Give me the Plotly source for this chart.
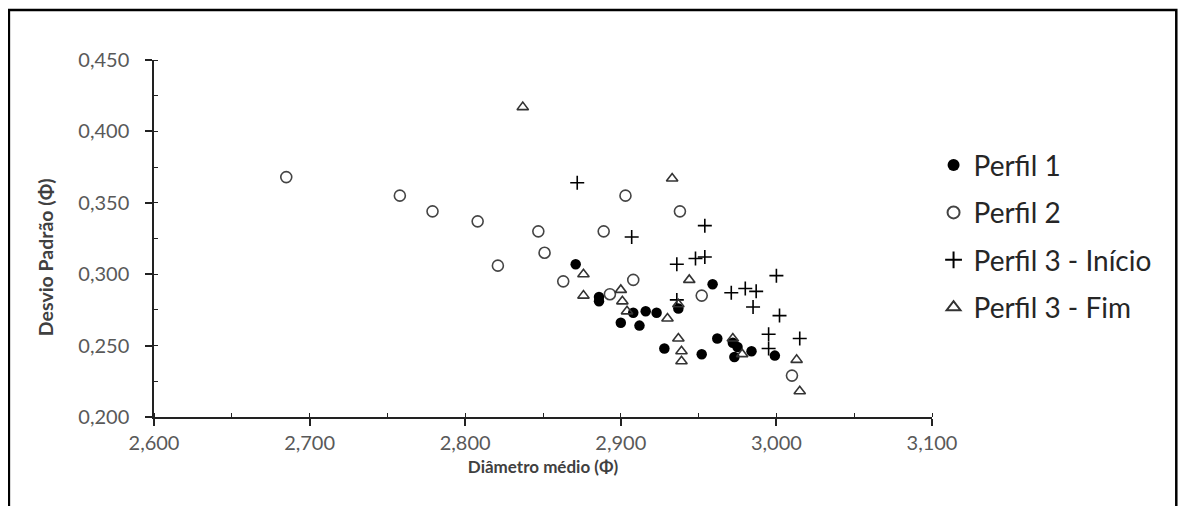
import plotly.graph_objects as go

# Perfil 1 (filled circles)
p1_x = [2.871, 2.886, 2.886, 2.900, 2.908, 2.912, 2.916, 2.923, 2.928, 2.937,
        2.959, 2.952, 2.962, 2.972, 2.975, 2.973, 2.984, 2.999]
p1_y = [0.307, 0.284, 0.281, 0.266, 0.273, 0.264, 0.274, 0.273, 0.248, 0.276,
        0.293, 0.244, 0.255, 0.252, 0.249, 0.242, 0.246, 0.243]

# Perfil 2 (open circles)
p2_x = [2.685, 2.758, 2.779, 2.808, 2.821, 2.847, 2.851, 2.863, 2.889, 2.903,
        2.908, 2.938, 2.893, 2.952, 3.010]
p2_y = [0.368, 0.355, 0.344, 0.337, 0.306, 0.330, 0.315, 0.295, 0.330, 0.355,
        0.296, 0.344, 0.286, 0.285, 0.229]

# Perfil 3 - Início (plus)
p3i_x = [2.872, 2.907, 2.936, 2.948, 2.954, 2.954, 3.000, 2.971, 2.980, 2.987,
         2.985, 3.002, 2.995, 3.015, 2.995, 2.936]
p3i_y = [0.364, 0.326, 0.307, 0.311, 0.312, 0.334, 0.299, 0.287, 0.290, 0.288,
         0.277, 0.271, 0.258, 0.255, 0.248, 0.282]

# Perfil 3 - Fim (open triangles)
p3f_x = [2.837, 2.933, 2.876, 2.876, 2.900, 2.901, 2.904, 2.930, 2.944, 2.937,
         2.939, 2.939, 2.972, 2.978, 3.013, 3.015, 2.937]
p3f_y = [0.417, 0.367, 0.300, 0.285, 0.289, 0.281, 0.274, 0.269, 0.296, 0.255,
         0.246, 0.239, 0.255, 0.244, 0.240, 0.218, 0.279]

x_ticks = [2.6, 2.7, 2.8, 2.9, 3.0, 3.1]
y_ticks = [0.20, 0.25, 0.30, 0.35, 0.40, 0.45]

x_title = "Diâmetro médio (Φ)"
y_title = "Desvio Padrão (Φ)"

FONT = "Lato, 'Noto Sans', sans-serif"

fig = go.Figure()
fig.add_trace(go.Scatter(
    x=p1_x, y=p1_y, mode="markers", name="Perfil 1", legendgroup="a",
    marker=dict(symbol="circle", size=10.5, color="black")))
fig.add_trace(go.Scatter(
    x=p2_x, y=p2_y, mode="markers", name="Perfil 2", legendgroup="b",
    marker=dict(symbol="circle-open", size=11, color="#444444",
                line=dict(width=1.6, color="#444444"))))
fig.add_trace(go.Scatter(
    x=p3i_x, y=p3i_y, mode="markers", name="Perfil 3 - Início", legendgroup="c",
    marker=dict(symbol="cross-thin", size=10, color="black",
                line=dict(width=1.6, color="black"))))
fig.add_trace(go.Scatter(
    x=p3f_x, y=p3f_y, mode="markers", name="Perfil 3 - Fim", legendgroup="d",
    marker=dict(symbol="triangle-up-open", size=10, color="#333333",
                line=dict(width=1.6, color="#333333"))))

axis_common = dict(
    showgrid=False, zeroline=False, showline=True, linecolor="#222222", linewidth=1.5,
    ticks="outside", ticklen=7, tickwidth=1.5, tickcolor="#222222",
    tickfont=dict(family=FONT, size=20, color="#595959"),
    tickformat=".3f",
)

fig.update_xaxes(
    range=[2.6, 3.1], tickvals=x_ticks,
    minor=dict(dtick=0.05, ticks="inside", ticklen=4, tickcolor="#222222", tickwidth=1.2),
    title=dict(text="<b>" + x_title + "</b>", font=dict(family=FONT, size=17, color="#404040"),
               standoff=8),
    **axis_common)
fig.update_yaxes(
    range=[0.2, 0.45], tickvals=y_ticks, ticklabelstandoff=12,
    minor=dict(dtick=0.025, ticks="inside", ticklen=4, tickcolor="#222222", tickwidth=1.2),
    **axis_common)

fig.update_layout(
    width=1171, height=498,
    separators=",.",
    paper_bgcolor="white", plot_bgcolor="white",
    margin=dict(l=146, r=247, t=52, b=89),
    showlegend=True,
    legend=dict(x=1.002, y=0.775, xanchor="left", yanchor="top",
                traceorder="grouped", tracegroupgap=8, itemsizing="constant",
                font=dict(family=FONT, size=28, color="#262626"),
                bgcolor="rgba(0,0,0,0)"),
    annotations=[dict(text="<b>" + y_title + "</b>", textangle=-90,
                      xref="paper", yref="paper", x=-0.140, y=0.448,
                      xanchor="center", yanchor="middle", showarrow=False,
                      font=dict(family=FONT, size=19.5, color="#404040"))],
    shapes=[dict(type="rect", xref="paper", yref="paper",
                 x0=-0.1865, x1=1.314, y0=-0.30, y1=1.140,
                 line=dict(color="black", width=2.5), fillcolor="rgba(0,0,0,0)")],
)

fig.write_html("out.html")
